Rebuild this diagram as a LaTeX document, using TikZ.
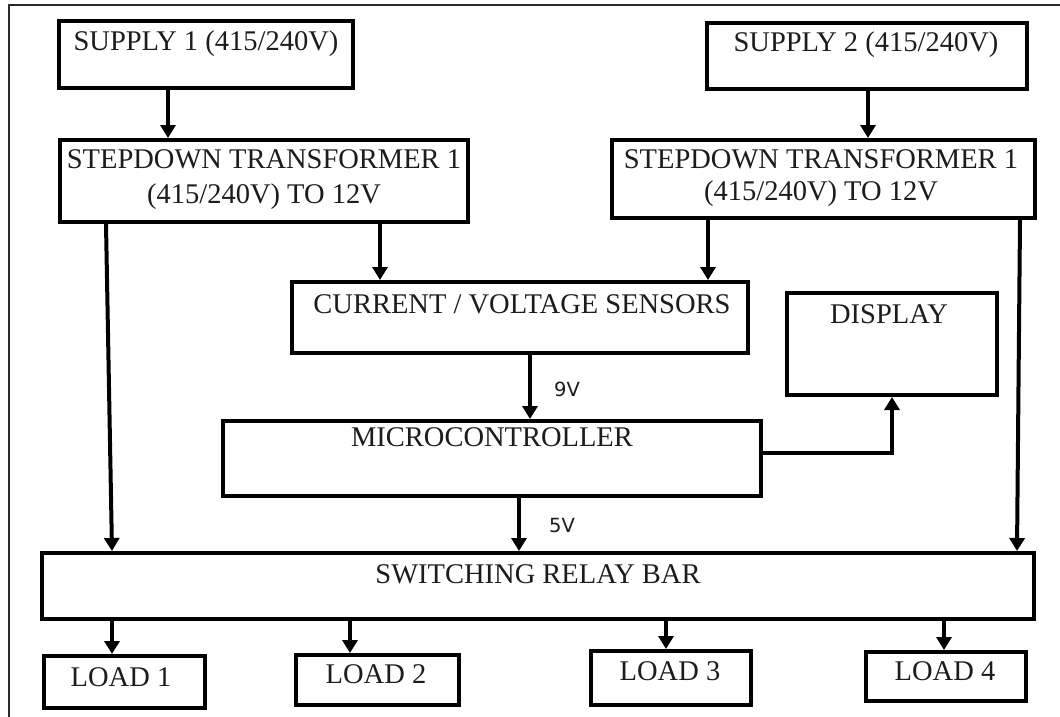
\documentclass[tikz,border=0pt]{standalone}
\usepackage{fontspec}
\setmainfont{Liberation Serif}
\newfontfamily\voltfont{DejaVu Sans}
\usetikzlibrary{arrows.meta,fit}
\definecolor{ink}{HTML}{1C1C1C}
\definecolor{framegray}{HTML}{2A2A2A}
\begin{document}
\begin{tikzpicture}[x=1pt,y=-1pt,
  box/.style={draw=black, line width=4pt, inner sep=0pt},
  arr/.style={draw=black, line width=4pt, line join=miter, -{Triangle[length=13pt,width=15pt]}},
  txt/.style={anchor=base, inner sep=0pt, text=ink, font=\fontsize{28.5}{34}\selectfont},
  volt/.style={anchor=base west, inner sep=0pt, text=ink, font=\voltfont\fontsize{19.5}{23}\selectfont}]

\useasboundingbox (0,0) rectangle (1060,717);
\fill[white] (0,0) rectangle (1060,717);

% outer frame (top and left edges)
\draw[line width=2pt, framegray] (9,717) -- (9,5) -- (1060,5);

% blocks
\node[box, fit={(59,21) (353,88)}]    (s1)   {};
\node[box, fit={(707,23) (1027,89)}]  (s2)   {};
\node[box, fit={(60,140) (468,222)}]  (t1)   {};
\node[box, fit={(612,140) (1035,218)}](t2)   {};
\node[box, fit={(292,282) (748,353)}] (sens) {};
\node[box, fit={(787,293) (997,395)}] (disp) {};
\node[box, fit={(223,421) (761,496)}] (mc)   {};
\node[box, fit={(42,553) (1034,619)}] (rb)   {};
\node[box, fit={(44,656) (205,708)}]  (l1)   {};
\node[box, fit={(296,655) (459,705)}] (l2)   {};
\node[box, fit={(591,651) (751,705)}] (l3)   {};
\node[box, fit={(866,652) (1026,701)}](l4)   {};

% block texts
\node[txt] (s1t)   at (206,51)  {SUPPLY 1 (415/240V)};
\node[txt] (s2t)   at (866,52)  {SUPPLY 2 (415/240V)};
\node[txt] (t1ta)  at (264,168) {STEPDOWN TRANSFORMER 1};
\node[txt] (t1tb)  at (264,203) {(415/240V) TO 12V};
\node[txt] (t2ta)  at (821,168) {STEPDOWN TRANSFORMER 1};
\node[txt] (t2tb)  at (821,200) {(415/240V) TO 12V};
\node[txt] (senst) at (522,313) {CURRENT / VOLTAGE SENSORS};
\node[txt] (dispt) at (889,323) {DISPLAY};
\node[txt] (mct)   at (492,446) {MICROCONTROLLER};
\node[txt] (rbt)   at (538,583) {SWITCHING RELAY BAR};
\node[txt] (l1t)   at (121,686) {LOAD 1};
\node[txt] (l2t)   at (376,683) {LOAD 2};
\node[txt] (l3t)   at (670,680) {LOAD 3};
\node[txt] (l4t)   at (945,680) {LOAD 4};

% voltage labels
\node[volt] (v9) at (554,396) {9V};
\node[volt] (v5) at (549,532) {5V};

% x positions of the vertical connectors
\coordinate (xs1) at (168,0);
\coordinate (xs2) at (868,0);
\coordinate (xt1a) at (106,0);
\coordinate (xt1b) at (112,0);
\coordinate (xt1c) at (380,0);
\coordinate (xt2a) at (708,0);
\coordinate (xt2b) at (1020,0);
\coordinate (xt2c) at (1017,0);
\coordinate (xsm) at (530,0);
\coordinate (xmr) at (519,0);
\coordinate (xl1) at (112,0);
\coordinate (xl2) at (350,0);
\coordinate (xl3) at (666,0);
\coordinate (xl4) at (944,0);
\coordinate (ydisp) at (0,453);

% connectors
\draw[arr] (s1.south -| xs1) -- (t1.north -| xs1);
\draw[arr] (s2.south -| xs2) -- (t2.north -| xs2);
\draw[arr] (t1.south -| xt1a) -- (rb.north -| xt1b);
\draw[arr] (t1.south -| xt1c) -- (sens.north -| xt1c);
\draw[arr] (t2.south -| xt2a) -- (sens.north -| xt2a);
\draw[arr] (t2.south -| xt2b) -- (rb.north -| xt2c);
\draw[arr] (sens.south -| xsm) -- (mc.north -| xsm);
\draw[arr] (mc.south -| xmr) -- (rb.north -| xmr);
\draw[arr] (mc.east |- ydisp) -| (disp.south);
\draw[arr] (rb.south -| xl1) -- (l1.north -| xl1);
\draw[arr] (rb.south -| xl2) -- (l2.north -| xl2);
\draw[arr] (rb.south -| xl3) -- (l3.north -| xl3);
\draw[arr] (rb.south -| xl4) -- (l4.north -| xl4);
\end{tikzpicture}
\end{document}
